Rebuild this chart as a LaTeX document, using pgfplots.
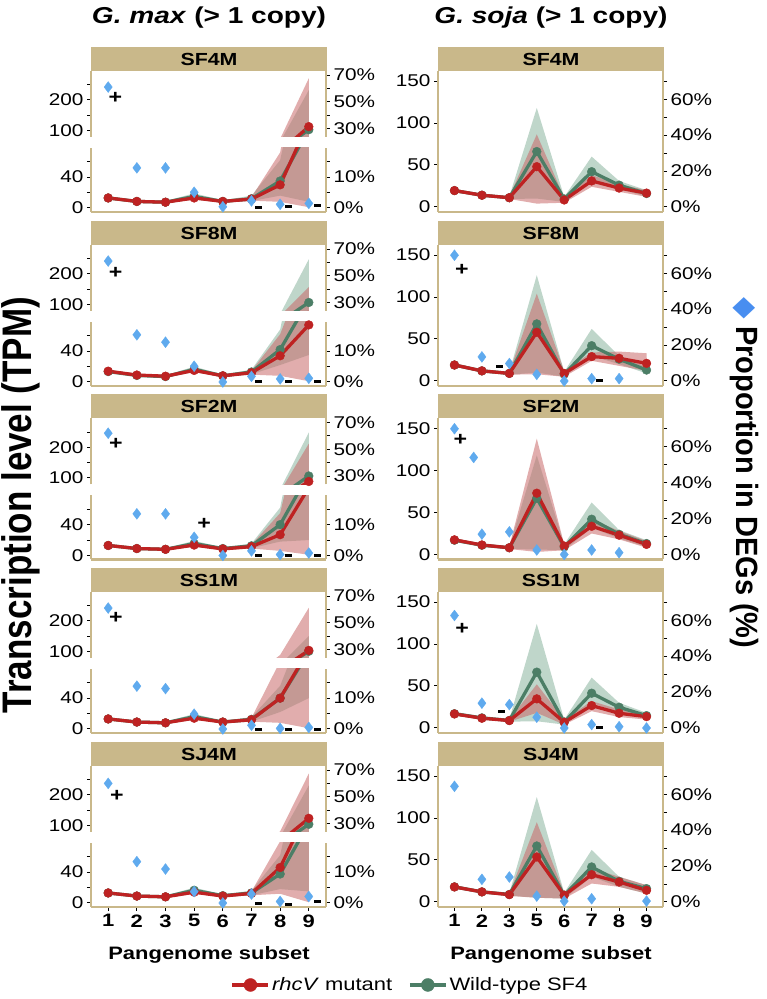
\documentclass[border=0pt]{standalone}
\usepackage{pgfplots}
\pgfplotsset{compat=1.18}
\usepackage{pgfplotstable}
\usepackage{fontspec}
\setmainfont{Liberation Sans}[FakeStretch=1.22]
\setsansfont{Liberation Sans}[FakeStretch=1.22]
\newfontfamily\plainsans{Liberation Sans}
\newfontfamily\dejavu{DejaVu Sans}
\definecolor{tan}{RGB}{201,184,138}
\definecolor{rline}{RGB}{190,34,34}
\definecolor{gline}{RGB}{76,126,102}
\definecolor{rrib}{RGB}{200,105,105}
\definecolor{grib}{RGB}{112,164,138}
\definecolor{dia}{RGB}{95,170,238}
\definecolor{diakey}{RGB}{72,142,240}

% ================= G. max (left column) =================
\pgfplotstableread{
x rm gm
0 13 13
1 8.5 8.5
2 7.5 7.5
3 13 15
4 8.5 8.5
5 11.5 12
6 30 35
7 112 102
}\mxA
\pgfplotstableread{
x rm gm
0 14 13.5
1 9 8.5
2 7.5 7
3 15 16.5
4 8 8
5 12 13
6 34 42
7 74 106
}\mxB
\pgfplotstableread{
x rm gm
0 13 13
1 9 9
2 8 8
3 13.5 15.5
4 8.5 9
5 11.5 12.5
6 27 40
7 88 106
}\mxC
\pgfplotstableread{
x rm gm
0 13 13
1 9 9
2 8 8
3 14 16
4 9 9
5 12 12.5
6 40 40
7 103 100
}\mxD
\pgfplotstableread{
x rm gm
0 13 13
1 9 9
2 8 8
3 14 16.5
4 9 9.5
5 12.5 13
6 46 37.6
7 123 103.5
}\mxE
\pgfplotstableread{
x r g
0 14.5 15
1 10 10
2 9 9
3 15 19
4 10 10
5 14 16
6 72 62
7 271 232
7 1 8
6 8 16
5 9.5 9
4 7 7
3 11 11
2 6 6
1 7 7
0 11.5 11
}\rxA
\pgfplotstableread{
x r g
0 15.5 15
1 10.5 10
2 9 8.5
3 17 20
4 9.5 9.5
5 14.5 16
6 62 68
7 157 248
7 1 35
6 8 22
5 9.5 10
4 6.5 6.5
3 13 13
2 6 5.5
1 7.5 7
0 12.5 12
}\rxB
\pgfplotstableread{
x r g
0 14.5 14.5
1 10.5 10.5
2 9.5 9.5
3 15.5 19
4 10 10.5
5 14 15.5
6 55 62
7 212 249
7 1 20
6 6 18
5 9 9.5
4 7 7.5
3 11.5 12
2 6.5 6.5
1 7.5 7.5
0 11.5 11.5
}\rxC
\pgfplotstableread{
x r g
0 14.5 14.5
1 10.5 10.5
2 9.5 9.5
3 16 19.5
4 10.5 10.5
5 14.5 15.5
6 88 56
7 243 150
7 1 40
6 8 22
5 9.5 9.5
4 7.5 7.5
3 12 12.5
2 6.5 6.5
1 7.5 7.5
0 11.5 11.5
}\rxD
\pgfplotstableread{
x r g
0 14.5 14.5
1 10.5 10.5
2 9.5 9.5
3 16 20
4 10.5 11
5 15 16
6 80 62
7 270 231
7 1 15
6 12 18
5 10 10
4 7.5 8
3 12 13
2 6.5 6.5
1 7.5 7.5
0 11.5 11.5
}\rxE
\pgfplotstableread{
x p
0 61
}\dtA
\pgfplotstableread{
x p
1 13
2 13
3 5.1
4 0.4
5 2.3
6 1.2
7 1.5
}\dlA
\pgfplotstableread{
x p
0 61
}\dtB
\pgfplotstableread{
x p
1 15.3
2 12.9
3 5.1
4 0
5 1.8
6 1
7 1.2
}\dlB
\pgfplotstableread{
x p
0 62
}\dtC
\pgfplotstableread{
x p
1 13.5
2 13.5
3 5.9
4 0
5 1.5
6 0.3
7 0.8
}\dlC
\pgfplotstableread{
x p
0 61
}\dtD
\pgfplotstableread{
x p
1 13.9
2 13.1
3 4.8
4 0
5 1.2
6 0.2
7 0.5
}\dlD
\pgfplotstableread{
x p
0 60
}\dtE
\pgfplotstableread{
x p
1 13.4
2 11
3 3.7
4 0
5 2.9
6 0.5
7 2.1
}\dlE

% ================= G. soja (right column) =================
\pgfplotstableread{
x rm gm
0 19.5 19.5
1 14 14
2 11 11
3 48 66
4 8.3 9.5
5 31 42
6 22.5 26
7 16.5 16
}\msA
\pgfplotstableread{
x rm gm
0 19 19
1 12 12
2 9 9
3 58 68
4 9 8
5 29 42
6 27 26
7 21 13
}\msB
\pgfplotstableread{
x rm gm
0 17.4 17
1 11.3 11
2 8 8
3 73 67
4 10 9
5 33.6 42
6 23 24
7 12 13
}\msC
\pgfplotstableread{
x rm gm
0 16.7 17
1 11.6 12
2 8.8 9
3 34.7 66.5
4 6.8 7
5 26.7 41.4
6 17.5 24.7
7 13.5 14.7
}\msD
\pgfplotstableread{
x rm gm
0 17.9 18
1 12 12
2 8.7 9
3 53.6 66.7
4 8 8
5 32.5 41.7
6 23.8 24.6
7 13.9 15.9
}\msE
\pgfplotstableread{
x r g
0 21.5 21.5
1 15.5 15.5
2 12.5 12.5
3 86.5 118
4 11 12
5 38 60
6 27 31
7 20 20
7 12 12
6 18 22
5 24 31
4 5 6
3 4 10
2 9.5 9.5
1 12.5 12.5
0 17.5 17.5
}\rsA
\pgfplotstableread{
x r g
0 21 21
1 13.5 13.5
2 10.5 10.5
3 104 126
4 12 11
5 34 62
6 35 30
7 33 17
7 12 9
6 18 20
5 24 30
4 5 5
3 8 10
2 7.5 7.5
1 10.5 10.5
0 17 17
}\rsB
\pgfplotstableread{
x r g
0 19.5 19
1 13 12.5
2 9.5 9.5
3 138 118
4 12 12
5 42 62
6 28 29
7 16 17
7 8 9
6 18 19
5 25 32
4 5 5
3 3 6
2 6.5 6.5
1 10 9.5
0 15.5 15
}\rsC
\pgfplotstableread{
x r g
0 18.5 19
1 13 13.5
2 10 10.5
3 52 124
4 10 10
5 32 60
6 22 30
7 17 18
7 10 11
6 13 18
5 20 30
4 4 4
3 18 8
2 7.5 7.5
1 10 10.5
0 15 15
}\rsD
\pgfplotstableread{
x r g
0 20 20
1 13.5 13.5
2 10.2 10.5
3 95 125
4 11 11
5 40 62
6 30 30
7 20 20
7 10 10
6 18 18
5 22 30
4 4 4
3 5 5
2 7.2 7.5
1 10.5 10.5
0 16 16
}\rsE
\pgfplotstableread{
x p
0 70
1 13.4
2 9.7
3 3.7
4 0
5 1.3
6 1.3
}\dsB
\pgfplotstableread{
x p
0 70
0.7 54
1 11.3
2 12.6
3 2.5
4 0
5 2.5
6 1
}\dsC
\pgfplotstableread{
x p
0 62.6
1 13.8
2 13
3 6
4 0
5 1.9
6 0.7
7 0
}\dsD
\pgfplotstableread{
x p
0 64.4
1 12.6
2 13.9
3 3.3
4 0.5
5 1.8
7 0.5
}\dsE

\pgfplotsset{
  pbase/.style={scale only axis, xmin=-0.6, xmax=7.6, anchor=south west,
    /pgf/number format/assume math mode=true,
    axis line style={draw=tan, line width=2.8pt, -},
    tick align=outside, major tick length=4pt,
    tick style={black, line width=1pt},
    ticklabel style={font=\fontsize{17}{20}\selectfont, black},
  },
  xnone/.style={axis x line*=bottom, x axis line style={draw=none}, xtick=\empty},
  xbot/.style={axis x line*=bottom, xtick=\empty},
  xbotlab/.style={axis x line*=bottom, xtick={0,...,7}, xticklabels={1,2,3,5,6,7,8,9},
    xticklabel style={font=\bfseries\fontsize{18}{21}\selectfont}},
  mylegend/.style={legend style={at={(-0.124,-0.553)}, anchor=center, draw=none, fill=none, legend columns=2,
      font=\fontsize{18}{21}\selectfont, /tikz/every even column/.append style={column sep=14pt}},
    legend image code/.code={\draw[##1, line width=3.3pt] (0pt,0pt) -- (36pt,0pt); \fill[##1] (18pt,0pt) circle (6.5pt);}},
}

\newcommand{\drawseries}[2]{%
  \addplot[draw=none, fill=grib, fill opacity=0.45, forget plot] table[x=x,y=g]{#2};
  \addplot[draw=none, fill=rrib, fill opacity=0.55, forget plot] table[x=x,y=r]{#2};
  \addplot[gline, line width=3.3pt, mark=*, mark size=4.4pt, mark options={line width=0.4pt}, forget plot] table[x=x,y=gm]{#1};
  \addplot[rline, line width=3.3pt, mark=*, mark size=4.4pt, mark options={line width=0.4pt}, forget plot] table[x=x,y=rm]{#1};
}
\newcommand{\dia}[1]{\addplot[only marks, mark=diamond*, mark size=5.5pt, color=dia, mark options={line width=0.3pt}, forget plot] table[x=x,y=p]{#1};}
\newcommand{\plussign}[2]{\node[font=\bfseries\fontsize{19}{22}\selectfont, inner sep=0pt] at (axis cs:#1,#2) {+};}
\newcommand{\minussign}[2]{\node[fill=black, minimum width=7pt, minimum height=3pt, inner sep=0pt] at (axis cs:#1,#2) {};}

\newcommand{\LeftPanel}[7]{%
  \pgfmathsetmacro\pHh{999-#1}%
  \pgfmathsetmacro\pHb{999-#1-24}%
  \pgfmathsetmacro\pHc{999-#1-12}%
  \pgfmathsetmacro\pTb{999-#1-90}%
  \pgfmathsetmacro\pLb{999-#1-165}%
  \fill[tan] (91pt,\pHh pt) rectangle (327pt,\pHb pt);
  \node[font=\bfseries\fontsize{17.5}{20}\selectfont] at (209pt,\pHc pt) {#2};
  \begin{axis}[pbase, at={(91pt,\pTb pt)}, width=235pt, height=66pt, ymin=78, ymax=295,
      xnone, axis y line*=left, ytick={100,150,200,250}, yticklabels={100,,200,}]
    \drawseries{#3}{#4}
  \end{axis}
  \begin{axis}[pbase, at={(91pt,\pTb pt)}, width=235pt, height=66pt, ymin=23.7, ymax=73,
      xnone, axis y line*=right, ytick={30,40,50,60,70}, yticklabels={30\%,,50\%,,70\%}, clip=false]
    #5
  \end{axis}
  \begin{axis}[pbase, at={(91pt,\pLb pt)}, width=235pt, height=64pt, ymin=-5.2, ymax=77.8,
      #7, axis y line*=left, ytick={0,20,40,60}, yticklabels={0,,40,}]
    \drawseries{#3}{#4}
  \end{axis}
  \begin{axis}[pbase, at={(91pt,\pLb pt)}, width=235pt, height=64pt, ymin=-1.3, ymax=19.45,
      xnone, axis y line*=right, ytick={0,5,10,15}, yticklabels={0\%,,10\%,}, clip=false]
    #6
  \end{axis}
}
\newcommand{\RightPanel}[7]{%
  \pgfmathsetmacro\pHh{999-#1}%
  \pgfmathsetmacro\pHb{999-#1-24}%
  \pgfmathsetmacro\pHc{999-#1-12}%
  \pgfmathsetmacro\pLb{999-#1-165}%
  \fill[tan] (438pt,\pHh pt) rectangle (664pt,\pHb pt);
  \node[font=\bfseries\fontsize{17.5}{20}\selectfont] at (551pt,\pHc pt) {#2};
  \begin{axis}[pbase, at={(438pt,\pLb pt)}, width=225pt, height=141pt, ymin=-6, ymax=162,
      #6, axis y line*=left, ytick={0,50,100,150}]
    \drawseries{#3}{#4}
  \end{axis}
  \begin{axis}[pbase, at={(438pt,\pLb pt)}, width=225pt, height=141pt, ymin=-2.8, ymax=75.7,
      xnone, axis y line*=right, ytick={0,10,...,70}, yticklabels={0\%,,20\%,,40\%,,60\%,}, clip=false, #7]
    #5
  \end{axis}
}

\begin{document}
\begin{tikzpicture}
\path (0pt,0pt) rectangle (766pt,999pt);

\node[font=\bfseries\fontsize{23}{27}\selectfont] at (209pt,981pt) {\textit{G. max} (> 1 copy)};
\node[font=\bfseries\fontsize{23}{27}\selectfont] at (551pt,981pt) {\textit{G. soja} (> 1 copy)};

\LeftPanel{47}{SF4M}{\mxA}{\rxA}{\dia{\dtA}\plussign{0.25}{53}}
  {\dia{\dlA}\minussign{5.24}{0.2}\minussign{6.3}{0.4}\minussign{7.3}{0.9}}{xbot}
\LeftPanel{221}{SF8M}{\mxB}{\rxB}{\dia{\dtB}\plussign{0.26}{52.5}}
  {\dia{\dlB}\minussign{5.24}{0}\minussign{6.3}{0}\minussign{7.3}{0.1}}{xbot}
\LeftPanel{394.5}{SF2M}{\mxC}{\rxC}{\dia{\dtC}\plussign{0.27}{54}}
  {\dia{\dlC}\plussign{3.35}{10.2}\minussign{5.24}{0}\minussign{6.3}{0}\minussign{7.3}{0.1}}{xbot}
\LeftPanel{568}{SS1M}{\mxD}{\rxD}{\dia{\dtD}\plussign{0.27}{54}}
  {\dia{\dlD}\minussign{5.24}{-0.3}\minussign{6.3}{-0.3}\minussign{7.3}{-0.3}}{xbot}
\LeftPanel{742}{SJ4M}{\mxE}{\rxE}{\dia{\dtE}\plussign{0.3}{51}}
  {\dia{\dlE}\minussign{5.24}{-0.2}\minussign{6.3}{-0.5}\minussign{7.3}{0.4}}{xbotlab}

\RightPanel{47}{SF4M}{\msA}{\rsA}{\addplot[draw=none, forget plot] coordinates {(0,0)};}{xbot}{}
\RightPanel{221}{SF8M}{\msB}{\rsB}{\dia{\dsB}\plussign{0.27}{62}\minussign{1.64}{7.8}\minussign{5.27}{0.4}}{xbot}{}
\RightPanel{394.5}{SF2M}{\msC}{\rsC}{\dia{\dsC}\plussign{0.22}{63.6}}{xbot}{}
\RightPanel{568}{SS1M}{\msD}{\rsD}{\dia{\dsD}\plussign{0.28}{55}\minussign{1.72}{9.1}\minussign{5.27}{0}}{xbot}{}
\RightPanel{742}{SJ4M}{\msE}{\rsE}{\dia{\dsE}
    \addlegendimage{rline}\addlegendentry{\textit{rhcV} mutant}
    \addlegendimage{gline}\addlegendentry{Wild-type SF4}}{xbotlab}{mylegend}

\node[font=\bfseries\fontsize{18}{21}\selectfont] at (209pt,44pt) {Pangenome subset};
\node[font=\bfseries\fontsize{18}{21}\selectfont] at (551pt,44pt) {Pangenome subset};

\node[rotate=90, inner sep=0pt] at (21pt,494pt) {\scalebox{1}[1.18]{\plainsans\bfseries\fontsize{35}{40}\selectfont Transcription level (TPM)}};
\node[rotate=-90, inner sep=0pt] at (744pt,526pt) {\scalebox{1}[1.06]{{\dejavu\color{diakey}\fontsize{28}{32}\selectfont ◆}\hspace{7pt}{\plainsans\bfseries\fontsize{29}{33}\selectfont Proportion in DEGs (\%)}}};
\end{tikzpicture}
\end{document}
